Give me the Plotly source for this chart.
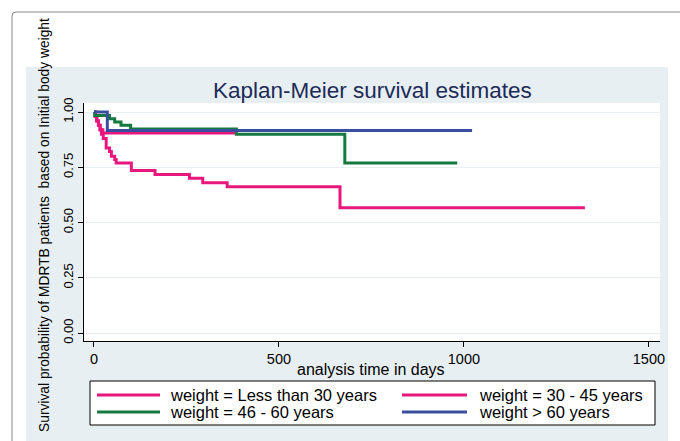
import plotly.graph_objects as go

# ---- data ----
t_lt30 = [0, 3, 7, 12, 17, 24, 385]
s_lt30 = [1.0, 0.98, 0.96, 0.94, 0.92, 0.905, 0.905]

t_30_45 = [0, 4, 8, 12, 16, 20, 25, 33, 42, 47, 56, 60, 101, 165, 258, 294, 360, 665, 1327]
s_30_45 = [1.0, 0.98, 0.96, 0.94, 0.92, 0.90, 0.88, 0.837, 0.822, 0.80, 0.785, 0.77,
           0.735, 0.718, 0.70, 0.68, 0.662, 0.567, 0.567]

t_46_60 = [0, 2, 42, 56, 73, 99, 385, 678, 982]
s_46_60 = [1.0, 0.985, 0.97, 0.955, 0.94, 0.923, 0.90, 0.77, 0.77]

t_gt60 = [0, 36, 1022]
s_gt60 = [1.0, 0.917, 0.917]

series_names = ["weight = Less than 30 years", "weight = 30 - 45 years",
                "weight = 46 - 60 years", "weight > 60 years"]
series_colors = ["#e8177e", "#e8177e", "#157a40", "#3a4ea0"]

x_ticks = [0, 500, 1000, 1500]
y_ticks = [0.0, 0.25, 0.5, 0.75, 1.0]
y_tick_labels = ["0.00", "0.25", "0.50", "0.75", "1.00"]

FONT = "Liberation Sans, Arial, sans-serif"

# ---- geometry helpers (pixel -> paper) ----
W, H = 680, 441
L, R, T, B = 84, 20, 103, 100
PW, PH = W - L - R, H - T - B


def px(x):
    return (x - L) / PW


def py(y):
    return (H - B - y) / PH


fig = go.Figure()
data = [(t_lt30, s_lt30), (t_30_45, s_30_45), (t_46_60, s_46_60), (t_gt60, s_gt60)]
for (tt, ss), name, col in zip(data, series_names, series_colors):
    fig.add_trace(go.Scatter(x=tt, y=ss, mode="lines", name=name, showlegend=False,
                             line=dict(color=col, width=3, shape="hv")))

shapes = [
    # light graph-region background
    dict(type="rect", xref="paper", yref="paper", x0=px(26), x1=px(668),
         y0=py(450), y1=py(67), fillcolor="#e8eff2", line=dict(width=0), layer="below"),
    # white plot area
    dict(type="rect", xref="paper", yref="paper", x0=0, x1=1, y0=0, y1=1,
         fillcolor="white", line=dict(width=0), layer="below"),
    # outer frame with rounded corner
    dict(type="path", xref="paper", yref="paper",
         path=f"M {px(12)},{py(460)} L {px(12)},{py(16)} Q {px(12)},{py(12)} {px(16)},{py(12)} L {px(700)},{py(12)}",
         line=dict(color="#8a8a8a", width=1), layer="below"),
    # legend box
    dict(type="rect", xref="paper", yref="paper", x0=px(90), x1=px(655),
         y0=py(425), y1=py(381), fillcolor="white", line=dict(color="black", width=1),
         layer="below"),
]

annotations = [
    dict(text="Kaplan-Meier survival estimates", xref="paper", yref="paper",
         x=px(372), y=py(91), showarrow=False, xanchor="center", yanchor="middle",
         font=dict(size=22.5, color="#1c2b58", family=FONT)),
    dict(text="analysis time in days", xref="paper", yref="paper",
         x=px(371), y=py(369), showarrow=False, xanchor="center", yanchor="middle",
         font=dict(size=16, color="black", family=FONT)),
    dict(text="Survival probability of MDRTB patients  based on Initial body weight",
         xref="paper", yref="paper", x=px(44), y=py(225), showarrow=False,
         textangle=-90, xanchor="center", yanchor="middle",
         font=dict(size=13.8, color="black", family=FONT)),
]

# legend entries (2 columns x 2 rows)
leg_cols = [(97, 160, 168), (402, 467, 477)]
leg_rows = [395, 412]
for i, (name, col) in enumerate(zip(series_names, series_colors)):
    x0, x1, xt = leg_cols[i % 2]
    yy = leg_rows[i // 2]
    shapes.append(dict(type="line", xref="paper", yref="paper", x0=px(x0), x1=px(x1),
                       y0=py(yy), y1=py(yy), line=dict(color=col, width=3)))
    annotations.append(dict(text=name, xref="paper", yref="paper", x=px(xt), y=py(yy),
                            showarrow=False, xanchor="left", yanchor="middle",
                            font=dict(size=16.5, color="black", family=FONT)))

fig.update_layout(
    width=W, height=H,
    margin=dict(l=L, r=R, t=T, b=B, autoexpand=False),
    paper_bgcolor="white", plot_bgcolor="rgba(0,0,0,0)",
    font=dict(family=FONT, color="black", size=13),
    shapes=shapes, annotations=annotations,
    showlegend=False,
    xaxis=dict(range=[-27, 1530], tickvals=x_ticks, ticks="outside", ticklen=5,
               tickcolor="black", showline=True, linecolor="black", linewidth=1,
               showgrid=False, zeroline=False, tickfont=dict(size=14.5)),
    yaxis=dict(range=[-0.036, 1.041], tickvals=y_ticks, ticktext=y_tick_labels,
               ticks="outside", ticklen=5, tickcolor="black", tickangle=-90,
               showline=True, linecolor="black", linewidth=1,
               showgrid=True, gridcolor="#e6eef2", gridwidth=1, zeroline=False,
               tickfont=dict(size=13)),
)

fig.write_html("out.html", config={"displayModeBar": False},
               post_script="document.body.style.margin='0';document.body.style.overflow='hidden';")
